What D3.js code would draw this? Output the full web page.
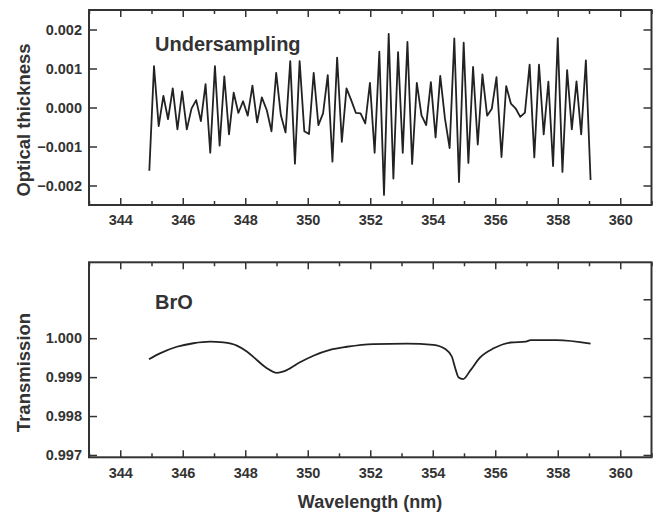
<!DOCTYPE html>
<html>
<head>
<meta charset="utf-8">
<script src="https://cdn.jsdelivr.net/npm/d3@7"></script>
<style>
  body { margin: 0; background: #fff; }
  text { font-family: "Liberation Sans", Arial, sans-serif; font-weight: bold; fill: #333; }
  .tick line { stroke: #333; stroke-width: 1.5; }
  .tick text { font-size: 14.5px; }
</style>
</head>
<body>
<div id="viz"></div>
<script>
var width = 657, height = 513;

// undersampling residual, optical thickness
var under_wl = [344.93, 345.08, 345.23, 345.38, 345.53, 345.68, 345.83, 345.98, 346.13, 346.28,
  346.43, 346.58, 346.73, 346.88, 347.03, 347.18, 347.33, 347.48, 347.63, 347.78,
  347.93, 348.08, 348.23, 348.38, 348.53, 348.69, 348.84, 348.99, 349.14, 349.29,
  349.44, 349.59, 349.74, 349.89, 350.04, 350.19, 350.34, 350.49, 350.64, 350.79,
  350.94, 351.09, 351.24, 351.39, 351.54, 351.69, 351.84, 351.99, 352.14, 352.29,
  352.44, 352.59, 352.74, 352.89, 353.04, 353.19, 353.34, 353.49, 353.64, 353.79,
  353.94, 354.09, 354.24, 354.39, 354.54, 354.69, 354.84, 354.99, 355.14, 355.29,
  355.44, 355.59, 355.74, 355.89, 356.04, 356.20, 356.35, 356.50, 356.65, 356.80,
  356.95, 357.10, 357.25, 357.40, 357.55, 357.70, 357.85, 358.00, 358.15, 358.30,
  358.45, 358.60, 358.75, 358.90, 359.05];
var under_od = [-1.62, 1.06, -0.48, 0.30, -0.30, 0.49, -0.56, 0.41, -0.56, -0.03,
  0.19, -0.35, 0.60, -1.16, 1.06, -0.98, 0.80, -0.69, 0.38, -0.14,
  0.16, -0.21, 0.56, -0.38, 0.26, -0.07, -0.61, 0.89, -0.20, -0.64,
  1.19, -1.44, 1.19, -0.61, -0.68, 0.89, -0.45, -0.15, 0.83, -1.39,
  1.28, -0.88, 0.49, 0.19, -0.14, -0.15, -0.41, 0.63, -1.16, 1.43,
  -2.24, 1.89, -1.82, 1.42, -1.16, 1.68, -1.45, 0.63, -0.20, -0.45,
  0.65, -0.77, 0.81, -0.28, -1.04, 1.77, -1.91, 1.66, -1.42, 1.04,
  -0.95, 0.85, -0.21, -0.03, 0.78, -1.27, 0.55, 0.10, -0.02, -0.24,
  -0.13, 1.10, -1.28, 1.10, -0.69, 0.66, -1.50, 1.78, -1.65, 0.96,
  -0.56, 0.67, -0.69, 1.21, -1.86].map(function(v) { return v / 1000; });

// BrO transmission
var bro_wl = [344.92, 345.27, 345.81, 346.34, 346.87, 347.30, 347.73, 348.05, 348.37, 348.69,
  349.01, 349.33, 349.75, 350.18, 350.71, 351.25, 352.10, 353.17, 354.02, 354.40,
  354.61, 354.72, 354.83, 354.97, 355.21, 355.51, 355.95, 356.49, 356.98, 357.13,
  357.97, 359.05];
var bro_tr = [0.99946, 0.99961, 0.99978, 0.99987, 0.99991, 0.99989, 0.99981, 0.99966, 0.99944, 0.99923,
  0.99911, 0.99918, 0.99938, 0.99955, 0.99970, 0.99978, 0.99985, 0.99986, 0.99983, 0.99972,
  0.99953, 0.99923, 0.99899, 0.99895, 0.99918, 0.99950, 0.99974, 0.99989, 0.99991, 0.99995,
  0.99995, 0.99986];

var x_major = [344, 346, 348, 350, 352, 354, 356, 358, 360];
var x_minor = [343, 345, 347, 349, 351, 353, 355, 357, 359, 361];
var od_ticks = [-0.002, -0.001, 0, 0.001, 0.002];
var tr_ticks = [0.997, 0.998, 0.999, 1.000];
var tr_ticks_right = [0.997, 0.998, 0.999, 1.000, 1.001];

var svg = d3.select("#viz").append("svg").attr("width", width).attr("height", height);

var left = 89, right = 651.5;
var x = d3.scaleLinear().domain([343, 361]).range([left, right]);

function panel(top, bottom, y, leftTicks, rightTicks, fmt, wl, vals, label, labelY, title, titleY, curve) {
  var g = svg.append("g");

  // x ticks, inward, bottom and top
  g.append("g").attr("transform", "translate(0," + bottom + ")")
      .call(d3.axisBottom(x).tickValues(x_major).tickSize(-7).tickPadding(10).tickFormat(d3.format("d")));
  g.append("g").attr("transform", "translate(0," + bottom + ")")
      .call(d3.axisBottom(x).tickValues(x_minor).tickSize(-4).tickFormat(""));
  g.append("g").attr("transform", "translate(0," + top + ")")
      .call(d3.axisTop(x).tickValues(x_major).tickSize(-7).tickFormat(""));
  g.append("g").attr("transform", "translate(0," + top + ")")
      .call(d3.axisTop(x).tickValues(x_minor).tickSize(-4).tickFormat(""));

  // y ticks
  g.append("g").attr("transform", "translate(" + left + ",0)")
      .call(d3.axisLeft(y).tickValues(leftTicks).tickSize(-8).tickPadding(7).tickFormat(fmt));
  g.append("g").attr("transform", "translate(" + right + ",0)")
      .call(d3.axisRight(y).tickValues(rightTicks).tickSize(-8).tickFormat(""));

  g.selectAll(".domain").remove();

  g.append("rect")
      .attr("x", left).attr("y", top)
      .attr("width", right - left).attr("height", bottom - top)
      .attr("fill", "none").attr("stroke", "#333").attr("stroke-width", 2);

  var line = d3.line()
      .x(function(d, i) { return x(wl[i]); })
      .y(function(d) { return y(d); })
      .curve(curve);

  g.append("path")
      .datum(vals)
      .attr("d", line)
      .attr("fill", "none")
      .attr("stroke", "#222")
      .attr("stroke-width", 1.8)
      .attr("stroke-linejoin", "round");

  g.append("text")
      .attr("x", 155).attr("y", labelY)
      .style("font-size", "20px")
      .text(label);

  g.append("text")
      .attr("transform", "translate(30," + titleY + ") rotate(-90)")
      .style("text-anchor", "middle")
      .style("font-size", "18.5px")
      .text(title);
}

var y_od = d3.scaleLinear().domain([-0.0025, 0.0025]).range([205, 10]);
panel(10, 205, y_od, od_ticks, od_ticks, d3.format(".3f"), under_wl, under_od,
  "Undersampling", 50.5, "Optical thickness", 120, d3.curveLinear);

var y_tr = d3.scaleLinear().domain([0.99694, 1.00195]).range([457.3, 262.3]);
panel(262.3, 457.3, y_tr, tr_ticks, tr_ticks_right, d3.format(".3f"), bro_wl, bro_tr,
  "BrO", 309.3, "Transmission", 372.5, d3.curveMonotoneX);

svg.append("text")
    .attr("x", 370).attr("y", 508)
    .style("text-anchor", "middle")
    .style("font-size", "18px")
    .text("Wavelength (nm)");
</script>
</body>
</html>
